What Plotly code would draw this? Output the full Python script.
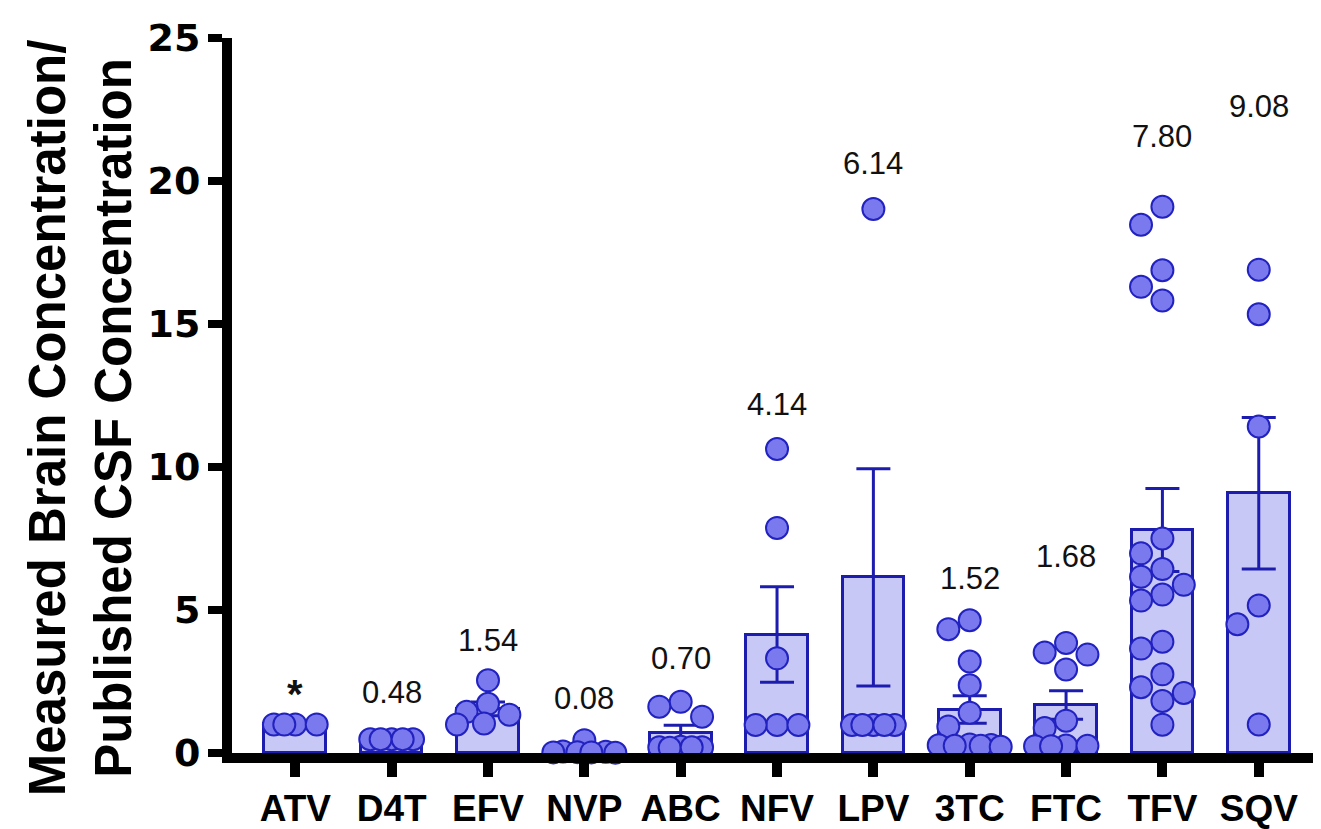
import numpy as np
import plotly.graph_objects as go

# ---------------- data ----------------
categories = ["ATV", "D4T", "EFV", "NVP", "ABC", "NFV", "LPV", "3TC", "FTC", "TFV", "SQV"]
means = [1.00, 0.48, 1.54, 0.08, 0.70, 4.14, 6.14, 1.52, 1.68, 7.80, 9.08]
sems = [0.0, 0.0, 0.24, 0.06, 0.27, 1.67, 3.80, 0.48, 0.50, 1.45, 2.65]
mean_labels = ["*", "0.48", "1.54", "0.08", "0.70", "4.14", "6.14", "1.52", "1.68", "7.80", "9.08"]
label_heights = [2.05, 2.13, 3.95, 1.89, 3.30, 12.17, 20.62, 6.09, 6.88, 21.56, 22.59]

atv = [1.0, 1.0, 1.0, 1.0]
d4t = [0.48, 0.48, 0.48, 0.48, 0.48]
efv = [2.54, 1.72, 1.44, 1.34, 1.03, 1.00]
nvp = [0.45, 0.05, 0.04, 0.03, 0.02, 0.02, 0.01]
abc = [1.79, 1.62, 1.27, 0.22, 0.20, 0.20, 0.18, 0.20]
nfv = [10.63, 7.87, 3.31, 0.98, 0.98, 0.98]
lpv = [19.02, 0.98, 0.98, 0.98, 0.98, 0.98]
tc3 = [4.64, 4.33, 3.20, 2.37, 1.41, 0.93, 0.30, 0.28, 0.27, 0.25, 0.25, 0.22]
ftc = [3.85, 3.51, 3.44, 2.92, 1.13, 0.87, 0.26, 0.25, 0.24, 0.24]
tfv = [19.10, 18.47, 16.88, 16.30, 15.82, 7.50, 6.98, 6.43, 6.16, 5.88, 5.54,
       5.33, 3.89, 3.65, 2.75, 2.30, 2.10, 1.82, 0.99]
sqv = [16.90, 15.34, 11.42, 5.16, 4.50, 1.00]
groups = [atv, d4t, efv, nvp, abc, nfv, lpv, tc3, ftc, tfv, sqv]

# ---------------- layout constants ----------------
W, H = 1321, 829
ML, MR, MT, MB = 224, 8, 30, 77
XR = [-0.657, 10.646]
YR = [0, 25]
plot_w = W - ML - MR
plot_h = H - MT - MB
px_x = plot_w / (XR[1] - XR[0])
px_y = plot_h / (YR[1] - YR[0])

MARK = 22
DIAM = 23.0
MAXOFF = 31.0


def swarm(vals):
    placed = []
    offs = []
    step = DIAM * 0.93
    cands = [0.0]
    k = 1
    while k * step <= MAXOFF + 0.5:
        cands += [-k * step, k * step]
        k += 1
    fine = np.arange(-MAXOFF, MAXOFF + 0.01, 1.0)
    for v in vals:
        yp = v * px_y
        chosen = None
        for c in cands:
            if all(np.hypot(c - px, yp - py) >= DIAM * 0.93 for px, py in placed):
                chosen = c
                break
        if chosen is None:
            best, bestd = 0.0, -1
            for c in fine:
                d = min(np.hypot(c - px, yp - py) for px, py in placed)
                if d > bestd + 1e-9:
                    best, bestd = c, d
            chosen = best
        placed.append((chosen, yp))
        offs.append(chosen / px_x)
    return offs


xs_pts, ys_pts = [], []
for i, g in enumerate(groups):
    for o, v in zip(swarm(g), g):
        xs_pts.append(i + o)
        ys_pts.append(v)

BAR_FILL = "#c8c8f6"
DARK = "#1c1cae"
PT_FILL = "#7a7aee"
PT_LINE = "#2222c0"
FONT = "Liberation Sans, Arial, sans-serif"

fig = go.Figure()
fig.add_trace(go.Bar(
    x=list(range(len(categories))), y=means, width=0.64,
    marker=dict(color=BAR_FILL, line=dict(color=DARK, width=3)),
    error_y=dict(type="data", array=sems, visible=True, color=DARK, thickness=3, width=17),
    hoverinfo="skip", showlegend=False,
))
fig.add_trace(go.Scatter(
    x=xs_pts, y=ys_pts, mode="markers",
    marker=dict(size=MARK, color=PT_FILL, line=dict(color=PT_LINE, width=2)),
    cliponaxis=False, showlegend=False, hoverinfo="skip",
))

for i, (t, yv) in enumerate(zip(mean_labels, label_heights)):
    if t == "*":
        txt, fsz = "<b>*</b>", 40
    else:
        txt, fsz = t, 31
    fig.add_annotation(x=i, y=yv, text=txt, showarrow=False, xref="x", yref="y",
                       xanchor="center", yanchor="middle",
                       font=dict(family=FONT, size=fsz, color="#111111"))

fig.add_annotation(
    text="<b>Measured Brain Concentration/<br>Published CSF Concentration</b>",
    textangle=-90, showarrow=False, xref="paper", yref="paper",
    x=(72 - ML) / plot_w, y=(H - MB - 414) / plot_h, xanchor="center", yanchor="middle",
    font=dict(family=FONT, size=51, color="black"),
)

fig.update_layout(
    width=W, height=H, margin=dict(l=ML, r=MR, t=MT, b=MB, pad=0),
    paper_bgcolor="white", plot_bgcolor="white", bargap=0,
    xaxis=dict(range=XR, tickmode="array", tickvals=list(range(len(categories))),
               ticktext=["<b>%s</b>" % c for c in categories],
               showline=True, linecolor="black", linewidth=10,
               ticks="outside", ticklen=14, tickwidth=10, tickcolor="black",
               showgrid=False, zeroline=False,
               tickfont=dict(family=FONT, size=37, color="black")),
    yaxis=dict(range=YR, tickmode="array", tickvals=[0, 5, 10, 15, 20, 25],
               ticktext=["<b>%d</b>" % v for v in [0, 5, 10, 15, 20, 25]],
               showline=True, linecolor="black", linewidth=10,
               ticks="outside", ticklen=14, tickwidth=8, tickcolor="black",
               showgrid=False, zeroline=False,
               tickfont=dict(family="DejaVu Sans, sans-serif", size=38, color="black")),
)

fig.write_html("out.html")
